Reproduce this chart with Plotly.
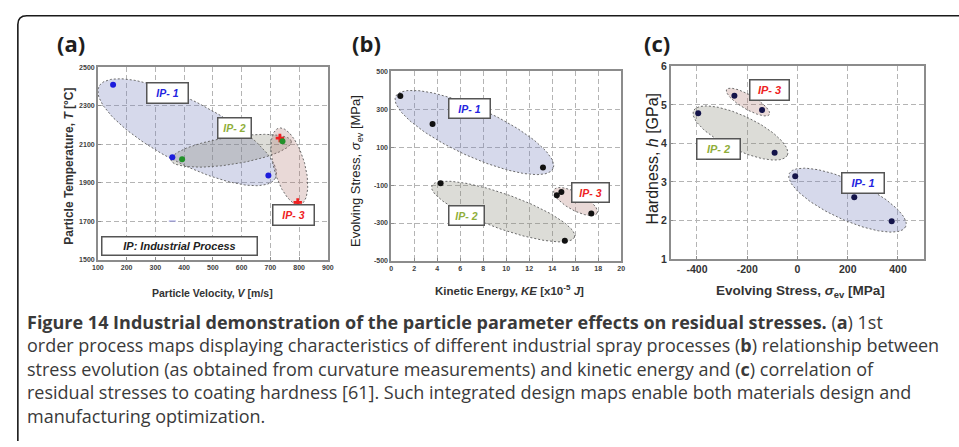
import numpy as np
import plotly.graph_objects as go

W, H = 959, 447

# ---------------- data ----------------
# (a) Particle velocity [m/s] vs particle temperature [°C]
a_ip1_v = [153, 359, 693]
a_ip1_t = [2409, 2033, 1938]
a_ip2_v = [393, 742]
a_ip2_t = [2023, 2116]
a_ip3_v = [733, 795]
a_ip3_t = [2133, 1799]
a_stray_v = [359]
a_stray_t = [1702]

# (b) Kinetic energy [x1e-5 J] vs evolving stress [MPa]
b_ke = [0.8, 3.6, 13.2, 4.3, 14.4, 14.8, 17.4, 15.1]
b_sig = [369, 222, -8, -91, -154, -137, -250, -394]

# (c) Evolving stress [MPa] vs hardness [GPa]
c_sig = [-395, -251, -141, -91, -9, 226, 375]
c_h = [4.78, 5.24, 4.87, 3.76, 3.15, 2.60, 1.98]

# tick values
a_xticks = [100, 200, 300, 400, 500, 600, 700, 800, 900]
a_yticks = [1500, 1700, 1900, 2100, 2300, 2500]
b_xticks = [0, 2, 4, 6, 8, 10, 12, 14, 16, 18, 20]
b_yticks = [-500, -300, -100, 100, 300, 500]
c_xticks = [-400, -200, 0, 200, 400]
c_yticks = [1, 2, 3, 4, 5, 6]

# process-region ellipses: centre (data units), semi-axes (px), angle (deg, screen)
reg_panel = ["a", "a", "a", "b", "b", "b", "c", "c", "c"]
reg_group = [1, 2, 3, 1, 2, 3, 3, 2, 1]
reg_cx = [410.7, 563.5, 766, 7.24, 9.74, 16.03, -197, -227, 199]
reg_cy = [2163, 2067, 1986, 177, -239.5, -187, 5.073, 4.27, 2.528]
reg_a = [101, 61.7, 40.7, 87.9, 76.9, 24.9, 25.2, 52.7, 64.9]
reg_b = [31.7, 14, 15.7, 24.5, 17.8, 9, 7.3, 17.5, 20.1]
reg_ang = [27.9, -9, 74.5, 25, 20, 29, 30.6, 25.8, 24.9]

# label boxes (data units)
lab_panel = ["a", "a", "a", "b", "b", "b", "c", "c", "c"]
lab_group = [1, 2, 3, 1, 2, 3, 3, 2, 1]
lab_x = [342, 575, 781, 6.82, 6.51, 17.31, -112, -314, 260.5]
lab_y = [2369, 2187, 1734, 304, -259, -139, 5.376, 3.846, 2.962]

# ---------------- layout geometry ----------------
dom = {
    "a": dict(x=[93 / W, 326 / W], y=[1 - 261 / H, 1 - 63 / H], xr=[100, 900], yr=[1500, 2500]),
    "b": dict(x=[390 / W, 623 / W], y=[1 - 262 / H, 1 - 67 / H], xr=[0, 20], yr=[-500, 500]),
    "c": dict(x=[673 / W, 930 / W], y=[1 - 260 / H, 1 - 62 / H], xr=[-505, 505], yr=[1, 6]),
}
axn = {"a": ("x", "y"), "b": ("x2", "y2"), "c": ("x3", "y3")}

grp_fill = {1: "rgba(120,128,190,0.30)", 2: "rgba(130,130,110,0.28)", 3: "rgba(170,110,100,0.26)"}
grp_text = {1: "#2424e0", 2: "#8fae3a", 3: "#ee2222"}


def scale(p):
    d = dom[p]
    sx = (d["x"][1] - d["x"][0]) * W / (d["xr"][1] - d["xr"][0])
    sy = (d["y"][1] - d["y"][0]) * H / (d["yr"][1] - d["yr"][0])
    return sx, sy


def ellipse(cx, cy, a, b, ang, sx, sy, n=160):
    t = np.linspace(0, 2 * np.pi, n)
    th = np.radians(ang)
    dx = a * np.cos(t) * np.cos(th) - b * np.sin(t) * np.sin(th)
    dy = a * np.cos(t) * np.sin(th) + b * np.sin(t) * np.cos(th)
    return cx + dx / sx, cy - dy / sy


fig = go.Figure()

# ellipses
for p, g, cx, cy, a, b, ang in zip(reg_panel, reg_group, reg_cx, reg_cy, reg_a, reg_b, reg_ang):
    sx, sy = scale(p)
    ex, ey = ellipse(cx, cy, a, b, ang, sx, sy)
    fig.add_trace(go.Scatter(
        x=ex, y=ey, xaxis=axn[p][0], yaxis=axn[p][1], mode="lines", fill="toself",
        fillcolor=grp_fill[g], line=dict(color="#6a6a6a", width=1, dash="2px,2px"),
        hoverinfo="skip", showlegend=False))

# points (a)
fig.add_trace(go.Scatter(x=a_stray_v, y=a_stray_t, mode="markers", xaxis="x", yaxis="y",
                         marker=dict(symbol="line-ew", size=5, line=dict(color="#8a8ad8", width=1)),
                         showlegend=False))
fig.add_trace(go.Scatter(x=a_ip1_v, y=a_ip1_t, mode="markers", xaxis="x", yaxis="y",
                         marker=dict(color="#1c1cdc", size=6), showlegend=False))
fig.add_trace(go.Scatter(x=a_ip3_v, y=a_ip3_t, mode="markers", xaxis="x", yaxis="y",
                         marker=dict(color="#f02020", size=7, symbol="cross"), showlegend=False))
fig.add_trace(go.Scatter(x=a_ip2_v, y=a_ip2_t, mode="markers", xaxis="x", yaxis="y",
                         marker=dict(color="#23912a", size=6), showlegend=False))
# points (b)
fig.add_trace(go.Scatter(x=b_ke, y=b_sig, mode="markers", xaxis="x2", yaxis="y2",
                         marker=dict(color="#111111", size=6), showlegend=False))
# points (c)
fig.add_trace(go.Scatter(x=c_sig, y=c_h, mode="markers", xaxis="x3", yaxis="y3",
                         marker=dict(color="#14144a", size=6), showlegend=False))

tick_small = dict(family="Liberation Sans", size=7, color="#404040", weight="bold")
tick_big = dict(family="Liberation Sans", size=10.5, color="#333333", weight="bold")


def axis(p, which, ticks, font):
    d = dom[p]
    return dict(
        domain=d["x"] if which == "x" else d["y"],
        range=d["xr"] if which == "x" else d["yr"],
        anchor=axn[p][1] if which == "x" else axn[p][0],
        tickvals=ticks, ticktext=[str(v) for v in ticks], tickfont=font,
        showgrid=True, gridcolor="#b4b4b4", gridwidth=1, griddash="5px,3px",
        zeroline=False, showline=True, mirror=True, linecolor="#8c8c8c", linewidth=1.5,
        ticks="inside", ticklen=3, tickcolor="#8c8c8c", fixedrange=True,
    )


layout = dict(
    width=W, height=H, margin=dict(l=0, r=0, t=0, b=0),
    paper_bgcolor="white", plot_bgcolor="white",
    xaxis=axis("a", "x", a_xticks, tick_small), yaxis=axis("a", "y", a_yticks, tick_small),
    xaxis2=axis("b", "x", b_xticks, tick_small), yaxis2=axis("b", "y", b_yticks, tick_small),
    xaxis3=axis("c", "x", c_xticks, tick_big), yaxis3=axis("c", "y", c_yticks, tick_big),
)
fig.update_layout(**layout)

ann = []
# IP label boxes
box_w = {("a", 1): 38, ("a", 2): 30, ("a", 3): 38, ("b", 1): 38, ("b", 2): 32, ("b", 3): 34,
         ("c", 1): 39, ("c", 2): 40, ("c", 3): 36}
box_h = {"a": 17, "b": 16, "c": 17}
for p, g, x, y in zip(lab_panel, lab_group, lab_x, lab_y):
    ann.append(dict(x=x, y=y, xref=axn[p][0], yref=axn[p][1], showarrow=False,
                    text="<b><i>IP- %d</i></b>" % g,
                    font=dict(family="Liberation Sans", size=11 if p == "c" else 10.5, color=grp_text[g]),
                    bgcolor="white", bordercolor="#555555", borderwidth=1.5, borderpad=1,
                    width=box_w[(p, g)], height=box_h[p], align="center", valign="middle"))
ann.append(dict(x=385, y=1573, xref="x", yref="y", showarrow=False,
                text="<b><i>IP: Industrial Process</i></b>",
                font=dict(family="Liberation Sans", size=11, color="#222222"),
                bgcolor="white", bordercolor="#555555", borderwidth=1.5, borderpad=1,
                width=152, height=15))


def pa(px, py, text, size, angle=0, color="#333333", family="Liberation Sans", xanchor="center"):
    return dict(x=px / W, y=1 - py / H, xref="paper", yref="paper", showarrow=False, text=text,
                textangle=angle, xanchor=xanchor, yanchor="middle",
                font=dict(family=family, size=size, color=color))


# axis titles
ann.append(pa(63, 165, "<b>Particle Temperature, <i>T</i> [°C]</b>", 12, -90))
ann.append(pa(209, 295, "<b>Particle Velocity, <i>V</i> [m/s]</b>", 10.5))
ann.append(pa(355, 170, "Evolving Stress, <i>σ</i><sub>ev</sub> [MPa]", 13, -90, "#222222"))
ann.append(pa(510, 292, "<b>Kinetic Energy, <i>KE</i> [x10<sup>-5</sup> <i>J</i>]</b>", 11.5))
ann.append(pa(655, 157, "Hardness, <i>h</i> [GPa]", 16, -90, "#222222"))
ann.append(pa(805, 293, "<b>Evolving Stress, <i>σ</i><sub>ev</sub> [MPa]</b>", 13.5, 0, "#333333"))

# panel letters
for px, t in [(66, "(a)"), (365, "(b)"), (659, "(c)")]:
    ann.append(pa(px, 38, "<b>%s</b>" % t, 22, 0, "#1e1e1e", "Open Sans"))

# caption (one multi-line text block)
cap_lines = [
    "<b>Figure 14 Industrial demonstration of the particle parameter effects on residual stresses.</b> (<b>a</b>) 1st",
    "order process maps displaying characteristics of different industrial spray processes (<b>b</b>) relationship between",
    "stress evolution (as obtained from curvature measurements) and kinetic energy and (<b>c</b>) correlation of",
    "residual stresses to coating hardness [61]. Such integrated design maps enable both materials design and",
    "manufacturing optimization.",
]
cap = pa(19, 372.5, "<br>".join(cap_lines), 18, 0, "#3a3a3a", "Open Sans", "left")
cap["align"] = "left"
ann.append(cap)

fig.update_layout(annotations=ann)

# rounded frame around the figure
x0, y0, r = 12 / W, 1 - 10 / H, 9
fig.add_shape(type="path", xref="paper", yref="paper",
              path="M %f,0 L %f,%f Q %f,%f %f,%f L 1.2,%f" % (
                  x0, x0, 1 - (10 + r) / H, x0, y0, (12 + r) / W, y0, y0),
              line=dict(color="#1a1a1a", width=1.6))

fig.write_html("out.html")
